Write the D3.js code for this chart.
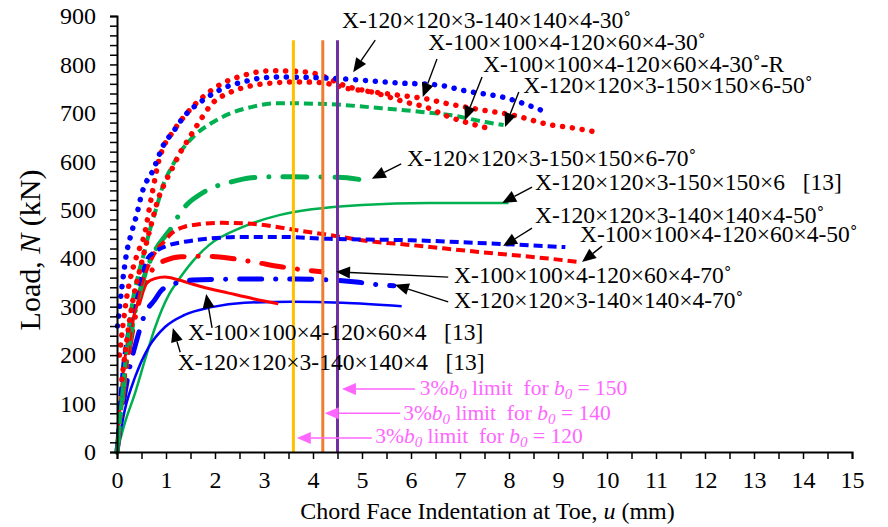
<!DOCTYPE html>
<html>
<head>
<meta charset="utf-8">
<script src="https://cdn.jsdelivr.net/npm/d3@7/dist/d3.min.js"></script>
<style>
  body { margin: 0; background: #fff; }
  svg text { font-family: "Liberation Serif", "Times New Roman", serif; }
</style>
</head>
<body>
<svg id="chart"></svg>
<script>
// ---- data: [u (mm), N (kN)] ----
const blue30 = [[0.01,260],[0.1,340],[0.2,413],[0.3,454],[0.41,493],[0.51,535],[0.59,556],[0.69,572],[0.77,590],[0.93,630],[1.16,663],[1.38,694],[1.71,723],[2.0,742],[2.24,754],[2.58,764],[2.95,772],[3.31,774],[4.0,773],[4.94,768],[5.69,762],[6.52,758],[7.13,745],[7.93,731],[8.7,704]];
const red30R = [[0.05,200],[0.2,320],[0.41,407],[0.55,445],[0.71,530],[0.85,600],[0.95,630],[1.1,655],[1.35,690],[1.7,728],[2.1,758],[2.6,778],[3.15,787],[3.6,786],[4.0,782],[4.3,772],[4.6,758],[5.28,741],[5.9,722],[6.3,712],[6.77,692],[7.18,679],[7.54,669]];
const red30 = [[0.1,150],[0.3,300],[0.5,390],[0.7,470],[0.85,525],[1.0,560],[1.15,590],[1.3,620],[1.46,646],[1.67,680],[1.93,718],[2.3,742],[2.7,755],[3.2,762],[3.7,764],[4.2,762],[4.67,751],[5.08,745],[5.7,737],[6.3,729],[6.7,720],[7.5,705],[8.05,696],[8.86,675],[9.3,669],[9.86,659]];
const green50 = [[0,0],[0.1,110],[0.2,215],[0.3,300],[0.42,360],[0.55,410],[0.67,458],[0.81,506],[0.96,556],[1.12,589],[1.32,623],[1.59,654],[1.93,679],[2.34,700],[2.74,712],[3.3,720],[4.33,718],[5.35,710],[6.22,702],[6.83,695],[7.52,681],[7.89,675]];
const green70 = [[0,0],[0.15,150],[0.35,280],[0.55,360],[0.8,420],[1.0,448],[1.16,470],[1.26,489],[1.42,510],[1.67,530],[1.93,545],[2.28,556],[2.74,566],[3.15,568],[3.56,568],[4.5,567],[5.05,561]];
const green0 = [[0,0],[0.16,60],[0.37,122],[0.57,190],[0.77,255],[1.06,325],[1.22,350],[1.54,393],[1.89,428],[2.56,464],[3.31,489],[3.98,501],[5.0,510],[6.36,514],[7.99,514]];
const blue50 = [[0,0],[0.1,150],[0.25,260],[0.4,330],[0.5,365],[0.61,398],[0.77,413],[1.06,427],[1.38,434],[1.93,441],[2.6,444],[3.31,444],[4.33,440],[6.02,437],[7.93,429],[9.15,423]];
const red50 = [[0,0],[0.15,150],[0.3,260],[0.45,330],[0.6,375],[0.77,411],[0.96,434],[1.12,452],[1.38,465],[1.67,470],[2.07,473],[2.6,472],[3.3,464],[3.66,458],[4.33,448],[5.0,437],[6.02,427],[7.38,413],[8.74,400],[9.45,392]];
const red70 = [[0,0],[0.15,140],[0.3,240],[0.45,310],[0.6,355],[0.8,385],[1.0,396],[1.3,403],[1.8,404],[2.3,400],[2.8,392],[3.37,382],[3.88,375],[4.18,372]];
const blue70 = [[0,0],[0.1,80],[0.25,170],[0.4,230],[0.57,285],[0.77,314],[0.91,334],[1.22,349],[1.54,355],[2.56,357],[3.66,357],[4.88,351],[5.35,345],[5.65,343]];
const red0 = [[0,0],[0.05,80],[0.12,160],[0.2,220],[0.3,265],[0.4,300],[0.5,330],[0.6,348],[0.77,358],[0.98,361],[1.26,355],[1.73,341],[2.28,328],[2.8,316],[3.29,306]];
const blue0 = [[0,0],[0.16,87],[0.37,155],[0.65,217],[0.98,258],[1.38,283],[1.93,299],[2.6,308],[3.56,310],[4.6,308],[5.81,301]];

// 3% b0 limits
const limitU = [3.6, 4.2, 4.5];
const limitB0 = [120, 140, 150];

// labels: text, text anchor (u,N), arrow tail (u,N), arrow tip (u,N)
const labelText = [
  "X-120×120×3-140×140×4-30˚",
  "X-100×100×4-120×60×4-30˚",
  "X-100×100×4-120×60×4-30˚-R",
  "X-120×120×3-150×150×6-50˚",
  "X-120×120×3-150×150×6-70˚",
  "X-120×120×3-150×150×6\u00a0\u00a0\u00a0[13]",
  "X-120×120×3-140×140×4-50˚",
  "X-100×100×4-120×60×4-50˚",
  "X-100×100×4-120×60×4-70˚",
  "X-120×120×3-140×140×4-70˚",
  "X-100×100×4-120×60×4\u00a0\u00a0\u00a0[13]",
  "X-120×120×3-140×140×4\u00a0\u00a0\u00a0[13]"
];
const labelAt   = [[4.59,875],[6.35,830],[7.47,784],[8.29,741],[5.92,590],[8.53,541],[8.53,473],[9.45,434],[6.88,349],[6.88,297],[1.45,231],[1.24,169]];
const labelTail = [[5.27,850],[6.53,811],[7.45,774],[8.2,743],[5.8,595],[8.47,547],[8.47,462],[9.9,425],[6.76,361],[6.76,310],[1.94,256],[1.29,206]];
const labelTip  = [[4.82,784],[6.24,733],[7.1,685],[7.92,671],[5.2,564],[7.86,514],[7.88,425],[9.49,392],[4.47,372],[5.67,345],[1.82,326],[1.14,256]];

const pinkAt   = [[5.27,19],[5.84,66],[6.18,118]];
const pinkTail = [[5.2,29],[5.78,80],[6.08,130]];
const pinkTip  = [[3.67,29],[4.24,80],[4.59,130]];

const xTicks = d3.range(0, 15.01, 0.5);
const yTicks = d3.range(0, 901, 20);

// ---- drawing ----
const W = 888, H = 527;
const svg = d3.select('#chart').attr('width', W).attr('height', H);

const x = d3.scaleLinear().domain([0, 15]).range([117, 852]);
const y = d3.scaleLinear().domain([0, 900]).range([452, 16]);

const BLUE = '#0000ff', RED = '#ff0000', GREEN = '#00b050', PINK = '#ff66ff';

const series = [
  {data: green0, color: GREEN, width: 2.5, dash: null},
  {data: blue0, color: BLUE, width: 2.5, dash: null},
  {data: red0, color: RED, width: 3, dash: null},
  {data: blue70, color: BLUE, width: 5, dash: '22 14 0.1 14', cap: 'round'},
  {data: red70, color: RED, width: 5, dash: '22 14 0.1 14', cap: 'round'},
  {data: green70, color: GREEN, width: 5, dash: '24 14 0.1 14', cap: 'round'},
  {data: red50, color: RED, width: 4, dash: '9 5'},
  {data: blue50, color: BLUE, width: 4, dash: '9 5'},
  {data: green50, color: GREEN, width: 4, dash: '9 5'},
  {data: red30, color: RED, width: 5.5, dash: '0.1 9.8', cap: 'round'},
  {data: red30R, color: RED, width: 5.5, dash: '0.1 9.8', cap: 'round'},
  {data: blue30, color: BLUE, width: 5.5, dash: '0.1 9.8', cap: 'round'}
];

const line = d3.line().x(d => x(d[0])).y(d => y(d[1])).curve(d3.curveMonotoneX);

svg.append('g').selectAll('path')
  .data(series)
  .join('path')
    .attr('d', d => line(d.data))
    .attr('fill', 'none')
    .attr('stroke', d => d.color)
    .attr('stroke-width', d => d.width)
    .attr('stroke-dasharray', d => d.dash)
    .attr('stroke-linecap', d => d.cap || 'butt');

// vertical limit lines
const limitColors = ['#ffc000', '#ed7d31', '#7030a0'];
svg.append('g').selectAll('line')
  .data(limitU)
  .join('line')
    .attr('x1', d => x(d)).attr('x2', d => x(d))
    .attr('y1', y(850)).attr('y2', y(0))
    .attr('stroke', (d, i) => limitColors[i])
    .attr('stroke-width', 3);

// axes
const xAxis = d3.axisBottom(x).tickValues(xTicks).tickSize(7).tickPadding(12)
  .tickFormat(d => Number.isInteger(d) ? d : '');
const yAxis = d3.axisLeft(y).tickValues(yTicks).tickSize(7).tickPadding(14)
  .tickFormat(d => d % 100 === 0 ? d : '');

const gx = svg.append('g').attr('transform', `translate(0,${y(0)})`).call(xAxis);
const gy = svg.append('g').attr('transform', `translate(${x(0)},0)`).call(yAxis);
[gx, gy].forEach(g => {
  g.select('.domain').attr('stroke', '#000').attr('stroke-width', 2);
  g.selectAll('.tick line').attr('stroke', '#000').attr('stroke-width', 1.5);
  g.selectAll('.tick text').attr('fill', '#000').style('font-size', '24px')
    .style('font-family', '"Liberation Serif", serif');
});

// axis titles
const yt = svg.append('text')
  .attr('transform', `translate(40,${(y(0) + y(900)) / 2 + 16}) rotate(-90)`)
  .attr('text-anchor', 'middle').style('font-size', '30px');
yt.append('tspan').text('Load, ');
yt.append('tspan').style('font-style', 'italic').text('N');
yt.append('tspan').text(' (kN)');

const xt = svg.append('text')
  .attr('x', (x(0) + x(15)) / 2 + 3).attr('y', 519)
  .attr('text-anchor', 'middle').style('font-size', '24px');
xt.append('tspan').text('Chord Face Indentation at Toe, ');
xt.append('tspan').style('font-style', 'italic').text('u');
xt.append('tspan').text(' (mm)');

// arrow helper
function arrow(g, tail, tip, color) {
  const x1 = x(tail[0]), y1 = y(tail[1]), x2 = x(tip[0]), y2 = y(tip[1]);
  const a = Math.atan2(y2 - y1, x2 - x1);
  const L = 14, hw = 6;
  const bx = x2 - L * Math.cos(a), by = y2 - L * Math.sin(a);
  g.append('line')
    .attr('x1', x1).attr('y1', y1).attr('x2', bx).attr('y2', by)
    .attr('stroke', color).attr('stroke-width', 1.4);
  g.append('path')
    .attr('d', `M${x2},${y2}L${bx + hw * Math.sin(a)},${by - hw * Math.cos(a)}L${bx - hw * Math.sin(a)},${by + hw * Math.cos(a)}Z`)
    .attr('fill', color);
}

const ann = svg.append('g');
labelText.forEach((t, i) => {
  arrow(ann, labelTail[i], labelTip[i], '#000');
  ann.append('text')
    .attr('x', x(labelAt[i][0])).attr('y', y(labelAt[i][1]))
    .style('font-size', '23.5px').attr('fill', '#000')
    .text(t);
});

// pink limit notes
limitB0.forEach((b, i) => {
  arrow(ann, pinkTail[i], pinkTip[i], PINK);
  const t = ann.append('text')
    .attr('x', x(pinkAt[i][0])).attr('y', y(pinkAt[i][1]))
    .style('font-size', '21.5px').attr('fill', PINK);
  t.append('tspan').text('3%');
  t.append('tspan').style('font-style', 'italic').text('b');
  t.append('tspan').style('font-style', 'italic').style('font-size', '15px').attr('dy', 4).text('0');
  t.append('tspan').attr('dy', -4).text('\u00a0limit\u00a0\u00a0for\u00a0');
  t.append('tspan').style('font-style', 'italic').text('b');
  t.append('tspan').style('font-style', 'italic').style('font-size', '15px').attr('dy', 4).text('0');
  t.append('tspan').attr('dy', -4).text('\u00a0=\u00a0' + b);
});
</script>
</body>
</html>
